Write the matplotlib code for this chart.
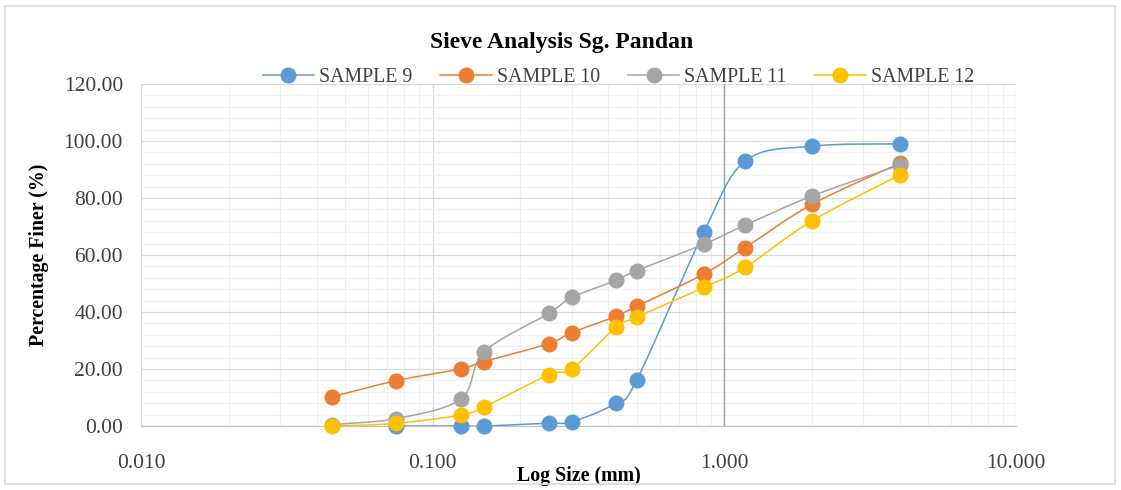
import numpy as np
import matplotlib
matplotlib.use("Agg")
import matplotlib.pyplot as plt
from matplotlib.path import Path
from matplotlib.patches import PathPatch, Rectangle
from matplotlib.lines import Line2D
from matplotlib.ticker import FixedLocator, FuncFormatter

# ---------------- data ----------------
sieve_sizes = [0.045, 0.075, 0.125, 0.15, 0.25, 0.3, 0.425, 0.5, 0.85, 1.18, 2.0, 4.0]

sample9_sizes = [0.075, 0.125, 0.15, 0.25, 0.3, 0.425, 0.5, 0.85, 1.18, 2.0, 4.0]
sample9 = [0.0, 0.0, 0.0, 1.0, 1.5, 8.0, 16.0, 68.0, 93.0, 98.2, 99.0]
sample10 = [10.2, 15.9, 20.1, 22.6, 28.9, 32.8, 38.5, 42.0, 53.3, 62.6, 77.8, 92.2]
sample11 = [0.5, 2.6, 9.5, 26.0, 39.5, 45.1, 51.1, 54.5, 63.8, 70.5, 80.7, 91.6]
sample12 = [0.0, 0.9, 3.9, 6.7, 18.0, 20.1, 34.6, 38.2, 48.6, 55.7, 72.0, 88.1]

series_names = ["SAMPLE 9", "SAMPLE 10", "SAMPLE 11", "SAMPLE 12"]
series_colors = ["#5B9BD5", "#ED7D31", "#A5A5A5", "#FFC000"]

x_ticks = [0.01, 0.1, 1, 10]
y_ticks = [0, 20, 40, 60, 80, 100, 120]


# smooth line like excel: bezier through the points, built in log-x space
def smooth_path(xs, ys):
    lx = np.log10(np.asarray(xs, dtype=float))
    y = np.asarray(ys, dtype=float)
    pts = np.column_stack([lx, y])
    n = len(pts)
    verts = [pts[0]]
    codes = [Path.MOVETO]
    for i in range(n - 1):
        p0 = pts[i - 1] if i > 0 else pts[i]
        p1 = pts[i]
        p2 = pts[i + 1]
        p3 = pts[i + 2] if i + 2 < n else pts[i + 1]
        c1 = p1 + (p2 - p0) / 6.0
        c2 = p2 - (p3 - p1) / 6.0
        verts += [c1, c2, p2]
        codes += [Path.CURVE4] * 3
    verts = np.array(verts)
    verts[:, 0] = 10 ** verts[:, 0]
    return Path(verts, codes)


serif = "Liberation Serif"

fig = plt.figure(figsize=(11.21, 4.90), dpi=100)
fig.patches.append(Rectangle((5, 6), 1110, 478, transform=None, fill=False,
                             edgecolor="#D9D9D9", linewidth=1.2))

ax = fig.add_axes([141 / 1121, 64 / 490, 875 / 1121, 342 / 490])
ax.set_xscale("log")
ax.set_xlim(0.01, 10)
ax.set_ylim(0, 120)

all_x = [sample9_sizes, sieve_sizes, sieve_sizes, sieve_sizes]
all_y = [sample9, sample10, sample11, sample12]

for k in range(4):
    patch = PathPatch(smooth_path(all_x[k], all_y[k]), fill=False,
                      edgecolor=series_colors[k], linewidth=1.1,
                      transform=ax.transData, zorder=3 + 2 * k)
    ax.add_patch(patch)
    ax.plot(all_x[k], all_y[k], "o", color=series_colors[k], markersize=10.5,
            linestyle="none", zorder=4 + 2 * k, clip_on=False)

# grid
ax.xaxis.set_major_locator(FixedLocator(x_ticks))
minor_x = [m * d for d in [0.01, 0.1, 1] for m in range(2, 10)]
ax.xaxis.set_minor_locator(FixedLocator(minor_x))
ax.yaxis.set_major_locator(FixedLocator(y_ticks))
ax.yaxis.set_minor_locator(FixedLocator(np.arange(0, 121, 4)))
ax.grid(which="major", color="#D9D9D9", linewidth=0.9)
ax.grid(which="minor", color="#F0F0F0", linewidth=0.8)
ax.set_axisbelow(True)

ax.xaxis.set_major_formatter(FuncFormatter(lambda v, p: "%.3f" % v))
ax.yaxis.set_major_formatter(FuncFormatter(lambda v, p: "%.2f" % v))
ax.xaxis.set_minor_formatter(FuncFormatter(lambda v, p: ""))
ax.tick_params(which="both", length=0)
ax.tick_params(axis="x", pad=20, labelsize=15.5, labelcolor="#404040")
ax.tick_params(axis="y", pad=13, labelsize=15.5, labelcolor="#404040")
for lab in ax.get_xticklabels() + ax.get_yticklabels():
    lab.set_fontfamily(serif)

for s in ["top", "right", "left"]:
    ax.spines[s].set_visible(False)
ax.spines["bottom"].set_color("#BFBFBF")
# vertical axis crosses at 1 (excel default for log axis)
ax.axvline(1, color="#9AA3B5", linewidth=1.0, zorder=2)

ax.set_xlabel("Log Size (mm)", fontfamily=serif, fontweight="bold", fontsize=14.3)
ax.xaxis.set_label_coords(0.5, -0.118)
ax.set_ylabel("Percentage Finer (%)", fontfamily=serif, fontweight="bold", fontsize=14.3)
ax.yaxis.set_label_coords(-0.105, 0.5)

fig.text(0.501, 0.913, "Sieve Analysis Sg. Pandan", ha="center", va="center",
         fontfamily=serif, fontweight="bold", fontsize=17)

handles = [Line2D([], [], color=c, marker="o", markersize=10.5, linewidth=1.1)
           for c in series_colors]
leg = fig.legend(handles, series_names, loc="center", ncol=4, frameon=False,
                 bbox_to_anchor=(0.5517, 0.842), handlelength=2.6,
                 columnspacing=1.4, handletextpad=0.25,
                 prop={"family": serif, "size": 14.3})
for t in leg.get_texts():
    t.set_color("#404040")

fig.savefig("out.png", dpi=100)
